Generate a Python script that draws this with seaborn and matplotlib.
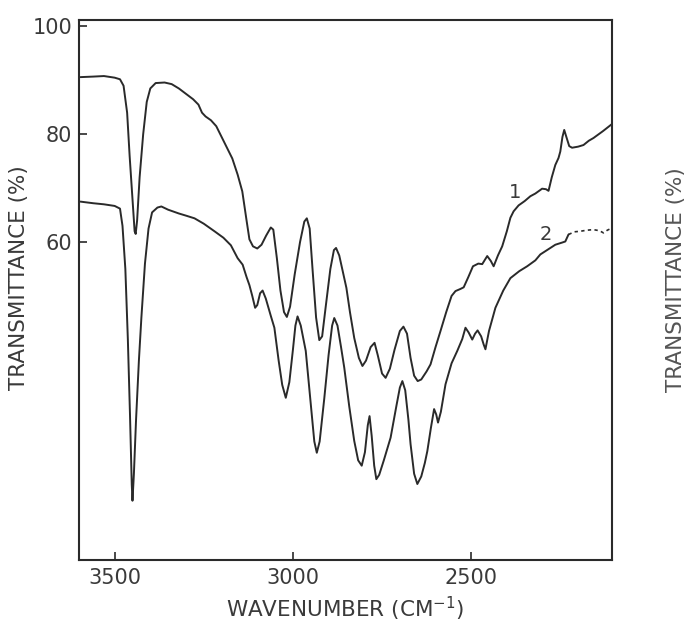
import numpy as np
import pandas as pd
import matplotlib
matplotlib.use("Agg")
import matplotlib.pyplot as plt
import seaborn as sns

# ---- data (wavenumber cm^-1, transmittance %) ----
wn1 = [3596, 3560, 3530, 3500, 3485, 3475, 3465, 3458, 3450, 3444, 3441, 3437, 3430, 3420,
       3410, 3400, 3385, 3360, 3340, 3320, 3300, 3280, 3265, 3255, 3245, 3230, 3215, 3200,
       3185, 3170, 3155, 3142, 3130, 3122, 3112, 3100, 3088, 3075, 3062, 3055, 3045, 3035,
       3025, 3017, 3008, 2995, 2980, 2968, 2961, 2953, 2945, 2935, 2926, 2918, 2908, 2895,
       2885, 2879, 2870, 2860, 2850, 2840, 2828, 2815, 2805, 2795, 2782, 2771, 2762, 2750,
       2740, 2728, 2715, 2700, 2690, 2680, 2670, 2660, 2650, 2640, 2625, 2614, 2600, 2586,
       2570, 2555, 2544, 2530, 2521, 2508, 2495, 2480, 2469, 2455, 2445, 2437, 2425, 2413,
       2400, 2390, 2381, 2367, 2350, 2334, 2320, 2301, 2290, 2283, 2274, 2264, 2255, 2250,
       2244, 2239, 2233, 2225, 2217, 2200, 2185, 2170, 2157, 2130, 2105]
t1 = [90.6, 90.7, 90.8, 90.5, 90.2, 89.0, 84.0, 76.0, 68.0, 62.0, 61.5, 64.0, 72.0, 80.0,
      86.0, 88.5, 89.5, 89.6, 89.3, 88.5, 87.5, 86.5, 85.5, 84.0, 83.3, 82.6, 81.5, 79.5,
      77.5, 75.5, 72.5, 69.4, 64.0, 60.5, 59.2, 58.8, 59.5, 61.2, 62.7, 62.3, 57.0, 51.0,
      47.0, 46.1, 48.0, 54.0, 60.0, 63.8, 64.4, 62.5, 55.0, 46.0, 41.8, 42.5, 48.0, 55.0,
      58.5, 58.9, 57.5, 54.5, 51.5, 47.0, 42.2, 38.5, 37.0, 38.0, 40.5, 41.3, 39.0, 35.6,
      34.8, 36.5, 40.0, 43.5, 44.3, 43.0, 38.5, 35.2, 34.2, 34.5, 36.0, 37.3, 40.5, 43.5,
      47.0, 50.0, 50.9, 51.3, 51.6, 53.5, 55.5, 56.0, 55.9, 57.4, 56.5, 55.5, 57.5, 59.2,
      62.0, 64.5, 65.7, 66.8, 67.6, 68.5, 69.0, 69.9, 69.8, 69.5, 72.0, 74.3, 75.6, 76.8,
      79.5, 80.8, 79.5, 77.8, 77.5, 77.7, 78.0, 78.8, 79.3, 80.6, 81.9]

wn2 = [3596, 3560, 3530, 3500, 3485, 3478, 3470, 3463, 3457, 3452, 3450, 3446, 3440, 3432,
       3425, 3415, 3405, 3395, 3380, 3369, 3350, 3320, 3300, 3276, 3250, 3220, 3195, 3174,
       3155, 3141, 3130, 3122, 3114, 3106, 3100, 3092, 3085, 3076, 3062, 3052, 3040, 3030,
       3020, 3010, 3000, 2993, 2987, 2978, 2964, 2950, 2940, 2933, 2925, 2912, 2900, 2890,
       2884, 2875, 2865, 2856, 2842, 2828, 2817, 2807, 2798, 2790, 2785, 2779, 2772, 2766,
       2758, 2745, 2726, 2710, 2700, 2693, 2685, 2676, 2670, 2660, 2651, 2640, 2630, 2623,
       2613, 2604, 2598, 2593, 2585, 2572, 2555, 2539, 2525, 2516, 2507, 2497, 2489, 2482,
       2472, 2465, 2460, 2450, 2432, 2410, 2390, 2365, 2343, 2320, 2306, 2285, 2264, 2245,
       2236, 2227]
t2 = [67.5, 67.2, 67.0, 66.7, 66.2, 63.0, 55.0, 42.0, 28.0, 15.0, 12.0, 17.0, 27.0, 38.0,
      46.0, 56.0, 62.5, 65.5, 66.4, 66.6, 66.0, 65.3, 64.9, 64.4, 63.4, 62.0, 60.8, 59.4,
      57.0, 55.8, 53.5, 52.0, 50.0, 47.8, 48.3, 50.5, 51.0, 49.5, 46.3, 44.1, 38.0, 33.5,
      31.1, 34.0, 40.0, 44.5, 46.2, 44.5, 39.8, 30.0, 23.0, 20.9, 23.0, 31.0, 39.0, 44.5,
      45.9, 44.5, 40.5, 36.7, 29.5, 23.1, 19.5, 18.5, 21.0, 26.0, 27.7, 24.0, 18.5, 16.0,
      16.8, 19.5, 23.7, 29.5, 33.0, 34.2, 32.5, 27.0, 22.5, 17.0, 15.1, 16.5, 19.0, 21.2,
      25.5, 29.0, 28.0, 26.5, 28.5, 33.6, 37.5, 39.8, 42.0, 44.1, 43.2, 41.9, 43.0, 43.6,
      42.5, 41.0, 40.1, 43.5, 47.8, 51.0, 53.3, 54.6, 55.5, 56.6, 57.7, 58.6, 59.5, 59.9,
      60.1, 61.4]

wn2_dash = [2227, 2210, 2194, 2175, 2157, 2140, 2129, 2118, 2105]
t2_dash = [61.4, 61.9, 62.0, 62.2, 62.3, 62.1, 61.7, 62.2, 62.6]

x_ticks = [3500, 3000, 2500]
y_ticks = [100, 80, 60]
curve_labels = ["1", "2"]

df1 = pd.DataFrame({"wn": wn1, "t": t1})
df2 = pd.DataFrame({"wn": wn2, "t": t2})
df2d = pd.DataFrame({"wn": wn2_dash, "t": t2_dash})

sns.set_theme(style="white")
plt.rcParams['font.family'] = ['DejaVu Sans']

fig = plt.figure(figsize=(6.85, 6.25), dpi=100)
ax = fig.add_axes([79/685, 1 - 560/625, (612 - 79)/685, (560 - 20)/625])

lc = "#2a2a2a"
tc = "#3a3a3a"
sns.lineplot(data=df1, x="wn", y="t", ax=ax, color=lc, lw=1.4, sort=False, estimator=None)
sns.lineplot(data=df2, x="wn", y="t", ax=ax, color=lc, lw=1.4, sort=False, estimator=None)
sns.lineplot(data=df2d, x="wn", y="t", ax=ax, color=lc, lw=1.2, sort=False, estimator=None,
             linestyle=(0, (2, 2)))

ax.set_xlim(3600, 2105)
ax.set_ylim(1, 101.2)
ax.set_xticks(x_ticks)
ax.set_xticklabels([str(v) for v in x_ticks])
ax.set_yticks(y_ticks)
ax.set_yticklabels([str(v) for v in y_ticks])
ax.tick_params(direction="in", length=6, width=1.2, colors=lc, labelsize=15,
               labelcolor=tc)
ax.tick_params(axis="x", bottom=True, pad=6)
ax.tick_params(axis="y", left=True, pad=5)
for s in ax.spines.values():
    s.set_color(lc)
    s.set_linewidth(1.5)
ax.set_xlabel("")
ax.set_ylabel("")

fig.text(345/685, 1 - 609/625, "WAVENUMBER (CM$^{-1}$)", fontsize=15.5, color=tc,
         ha="center", va="center")
fig.text(19/685, 1 - 278/625, "TRANSMITTANCE (%)", rotation=90, fontsize=15.5, color=tc,
         ha="center", va="center")

ax.text(2377, 69.1, curve_labels[0], fontsize=14, color=tc, ha="center", va="center")
ax.text(2291, 61.4, curve_labels[1], fontsize=14, color=tc, ha="center", va="center")

# label bleeding through from the neighbouring page
fig.text(676/685, 1 - 280/625, "TRANSMITTANCE (%)", rotation=90, fontsize=15.5,
         color="#555555", ha="center", va="center")

fig.savefig("out.png", dpi=100, facecolor="white")
